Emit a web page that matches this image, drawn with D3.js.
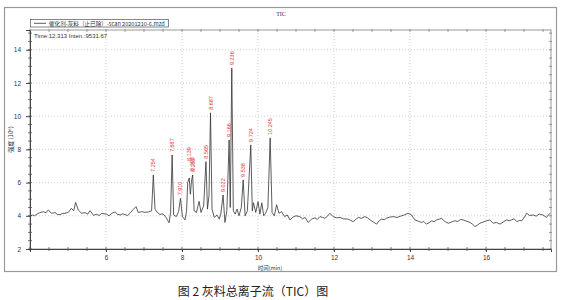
<!DOCTYPE html>
<html><head><meta charset="utf-8">
<script src="https://cdn.jsdelivr.net/npm/d3@7"></script>
<style>body{margin:0;background:#fff}svg{display:block}</style>
</head><body>
<svg id="c" width="565" height="300"></svg>
<script>
// ---- data ----
const xTicks = [6, 8, 10, 12, 14, 16];
const yTicks = [2, 4, 6, 8, 10, 12, 14];
const traceTime = [
 4.00,4.06,4.12,4.18,4.26,4.35,4.42,4.48,4.57,4.66,4.72,4.79,4.86,4.92,5.01,5.09,5.15,5.20,5.27,5.36,5.45,5.52,5.58,5.67,5.75,5.82,5.89,6.02,6.08,6.15,6.24,6.30,6.37,6.44,6.50,6.57,6.63,6.72,6.79,6.85,6.94,7.02,7.11,7.20,
 7.245,7.29,7.35,7.42,7.50,7.58,7.66,7.70,7.74,7.78,7.85,7.91,7.96,8.01,8.08,8.12,8.15,8.19,8.22,8.25,8.28,8.32,8.38,8.45,8.50,8.57,8.63,8.67,8.71,8.75,8.79,8.85,8.92,8.98,9.02,9.08,9.13,9.18,9.24,9.27,9.31,9.35,9.40,9.45,9.50,9.56,9.61,9.66,9.72,9.81,9.85,9.88,9.94,10.00,10.05,10.10,10.15,10.20,10.26,10.32,10.37,10.43,10.49,10.55,10.62,10.70,10.77,
 10.84,10.92,11.00,11.10,11.17,11.24,11.32,11.41,11.50,11.56,11.63,11.70,11.76,11.83,11.89,11.98,12.06,12.16,12.25,12.37,12.44,12.51,12.58,12.64,12.72,12.81,12.88,12.95,13.04,13.12,13.18,13.25,13.32,13.38,13.46,13.56,13.66,13.78,13.86,13.95,14.04,14.13,14.21,14.30,14.36,14.43,14.50,14.57,14.63,14.70,14.77,14.83,14.92,15.01,15.09,15.18,15.26,15.33,15.40,15.48,15.58,15.65,15.71,15.78,15.84,15.92,16.02,16.10,16.19,16.27,16.37,16.45,16.54,16.61,16.67,16.74,16.81,16.88,16.94,17.01,17.07,17.15,17.24,17.32,17.40,17.50,17.59,17.68
];
const traceInten = [
 3.97,4.05,4.00,4.10,4.19,4.25,4.18,4.35,4.15,4.19,4.08,4.07,4.14,4.15,4.21,4.45,4.30,4.81,4.35,4.15,4.19,4.10,4.31,4.03,4.09,4.02,4.15,4.09,4.00,4.15,4.23,4.10,4.05,4.12,4.07,4.02,4.15,4.39,4.55,4.20,4.25,4.21,4.23,4.30,
 6.46,4.40,4.20,4.08,4.12,3.90,3.58,4.20,7.66,4.05,3.95,4.25,5.05,3.95,3.75,4.30,6.00,6.28,5.30,6.10,6.46,4.30,4.20,4.87,4.20,4.60,7.26,4.40,5.20,10.20,4.40,3.90,4.05,3.80,4.10,5.25,3.60,4.30,8.57,4.50,12.90,4.30,4.10,4.40,4.00,4.50,6.16,4.00,4.30,8.27,4.30,4.79,4.20,4.85,4.10,4.78,4.00,4.15,4.50,8.69,4.20,4.00,4.67,4.15,4.25,3.95,4.05,
 3.75,3.92,4.00,3.95,3.82,3.90,3.60,3.80,3.88,3.78,3.95,3.90,3.85,3.98,4.15,3.95,3.88,3.90,3.82,3.80,3.72,3.65,3.80,3.90,3.85,3.95,3.88,3.75,3.62,3.50,3.68,3.80,3.76,3.85,3.92,3.95,3.90,4.00,4.06,4.15,4.05,3.75,3.68,3.60,3.66,3.50,3.58,3.70,3.64,3.75,3.80,3.85,3.65,3.55,3.62,3.70,3.66,3.78,3.75,3.68,3.60,3.48,3.35,3.45,3.55,3.62,3.70,3.75,3.55,3.60,3.50,3.62,3.75,3.70,3.75,3.82,3.65,3.72,3.70,3.92,4.15,4.02,4.05,3.98,4.10,4.05,3.90,4.15
];
const peakTime  = [7.245,7.74,7.96,8.19,8.25,8.28,8.63,8.75,9.08,9.24,9.31,9.61,9.81,10.32];
const peakInten = [6.46,7.66,5.05,6.28,6.10,6.46,7.26,10.20,5.25,8.57,12.90,6.16,8.27,8.69];
const peakLabel = ["7.254","7.687","7.910","8.139","8.193","8.253","8.565","8.687","9.022","9.166","9.236","9.538","9.724","10.245"];
const peakLift  = [0,0,0,14,7,0,0,0,0,0,0,0,0,0];

// ---- layout ----
const svg = d3.select("#c");
const L = 30, R = 551, T = 30, B = 249;
const x = d3.scaleLinear().domain([4.0, 17.71]).range([L, R]);
const y = d3.scaleLinear().domain([2, 15.19]).range([B, T]);
const font = "Liberation Sans, Arial, sans-serif";

// outer frame
svg.append("rect").attr("x",4.5).attr("y",7.5).attr("width",552).attr("height",264)
  .attr("fill","none").attr("stroke","#999").attr("stroke-width",1.2);

// title
svg.append("text").attr("x",281).attr("y",16).attr("text-anchor","middle")
  .attr("font-family","Liberation Serif, serif").attr("font-size",6).attr("fill","#333").text("TIC");

// grid
svg.append("g").selectAll("line").data(xTicks).join("line")
  .attr("x1",d=>x(d)).attr("x2",d=>x(d)).attr("y1",T).attr("y2",B)
  .attr("stroke","#bbb").attr("stroke-width",0.7).attr("stroke-dasharray","1,2");
svg.append("g").selectAll("line").data(yTicks.filter(d=>d>2)).join("line")
  .attr("x1",L).attr("x2",R).attr("y1",d=>y(d)).attr("y2",d=>y(d))
  .attr("stroke","#bbb").attr("stroke-width",0.7).attr("stroke-dasharray","1,2");

// plot box (top/right grey)
svg.append("rect").attr("x",L).attr("y",T).attr("width",R-L).attr("height",B-T)
  .attr("fill","none").attr("stroke","#999").attr("stroke-width",1);

// minor ticks
const xMinor = d3.range(4.0, 17.71, 0.5);
const yMinor = d3.range(2, 15.2, 0.5);
const tk = svg.append("g").attr("stroke","#444").attr("stroke-width",0.7);
tk.selectAll(".xb").data(xMinor).join("line").attr("x1",d=>x(d)).attr("x2",d=>x(d)).attr("y1",B-2).attr("y2",B+2);
tk.selectAll(".xt").data(xMinor).join("line").attr("class","xt").attr("x1",d=>x(d)).attr("x2",d=>x(d)).attr("y1",T-1).attr("y2",T+2).attr("stroke","#777");
tk.selectAll(".yl").data(yMinor).join("line").attr("class","yl").attr("x1",L-2).attr("x2",L+2).attr("y1",d=>y(d)).attr("y2",d=>y(d));
tk.selectAll(".yr").data(yMinor).join("line").attr("class","yr").attr("x1",R-2).attr("x2",R+1).attr("y1",d=>y(d)).attr("y2",d=>y(d)).attr("stroke","#777");

// axes
const xAxis = svg.append("g").attr("transform",`translate(0,${B})`)
  .call(d3.axisBottom(x).tickValues(xTicks).tickSize(3).tickPadding(3).tickFormat(d3.format("d")));
const yAxis = svg.append("g").attr("transform",`translate(${L},0)`)
  .call(d3.axisLeft(y).tickValues(yTicks).tickSize(4).tickPadding(5).tickFormat(d3.format("d")));
[xAxis,yAxis].forEach(a=>{
  a.select(".domain").attr("stroke","#444").attr("stroke-width",1);
  a.selectAll(".tick line").attr("stroke","#444");
  a.selectAll("text").attr("font-family",font).attr("font-size",6.5).attr("fill","#333");
});

// axis titles
svg.append("text").attr("x",270).attr("y",269.5).attr("text-anchor","middle")
  .attr("font-family","Noto Sans CJK SC, sans-serif").attr("font-size",5.5).attr("fill","#333").text("时间(min)");
svg.append("text").attr("transform",`translate(13,${(T+B)/2}) rotate(-90)`).attr("text-anchor","middle")
  .attr("font-family","Noto Sans CJK SC, sans-serif").attr("font-size",6).attr("fill","#333").text("强度 (10⁶)");

// legend
svg.append("rect").attr("x",30.5).attr("y",19.5).attr("width",138).attr("height",7.5)
  .attr("fill","#fff").attr("stroke","#555").attr("stroke-width",0.7);
svg.append("line").attr("x1",34).attr("x2",46).attr("y1",23.3).attr("y2",23.3).attr("stroke","#333").attr("stroke-width",0.8);
svg.append("text").attr("x",49).attr("y",25.5).attr("font-family","Noto Sans CJK SC, sans-serif")
  .attr("font-size",5.6).attr("fill","#333").text("催化剂-灰料（止已除）-scan 20201210-6.mzd");

// info text
svg.append("text").attr("x",34).attr("y",37.5).attr("font-family",font)
  .attr("font-size",6).attr("fill","#333").text("Time:12.313  Inten.:9531.67");

// trace
svg.append("clipPath").attr("id","clip").append("rect").attr("x",L).attr("y",T).attr("width",R-L).attr("height",B-T);
const pts = traceTime.map((t,i)=>[t,traceInten[i]]);
svg.append("path").datum(pts).attr("clip-path","url(#clip)")
  .attr("d", d3.line().x(d=>x(d[0])).y(d=>y(d[1])))
  .attr("fill","none").attr("stroke","#333").attr("stroke-width",0.8).attr("stroke-linejoin","round");

// peak labels
svg.append("g").selectAll("text").data(peakLabel).join("text")
  .attr("transform",(d,i)=>`translate(${x(peakTime[i])+2},${y(peakInten[i])-3-peakLift[i]}) rotate(-90)`)
  .attr("font-family",font).attr("font-size",5.5).attr("fill","#e23b3b").text(d=>d);

// caption
svg.append("text").attr("x",253).attr("y",296).attr("text-anchor","middle")
  .attr("font-family","Noto Sans CJK SC, serif").attr("font-size",12).attr("fill","#222").text("图 2  灰料总离子流（TIC）图");
</script>
</body></html>
